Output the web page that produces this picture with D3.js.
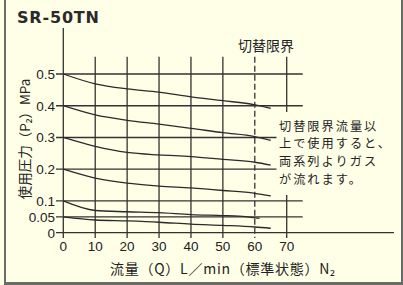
<!DOCTYPE html>
<html><head><meta charset="utf-8">
<script src="https://cdn.jsdelivr.net/npm/d3@7/dist/d3.min.js"></script>
<style>html,body{margin:0;padding:0;background:#ffffe8;}svg{display:block;}</style>
</head><body>
<script>
const chartTitle = "SR-50TN";
const qTicks = [0, 10, 20, 30, 40, 50, 60, 70];
const qTickLabels = ["0", "10", "20", "30", "40", "50", "60", "70"];
const pTicks = [0, 0.05, 0.1, 0.2, 0.3, 0.4, 0.5];
const pTickLabels = ["0", "0.05", "0.1", "0.2", "0.3", "0.4", "0.5"];
const switchLimitQ = 60;
const flowQ = [0, 10, 20, 30, 40, 50, 60, 65];
const flowQ010 = [0, 10, 20, 30, 40, 50, 55, 61.5];
const p050 = [0.5, 0.469, 0.453, 0.443, 0.428, 0.416, 0.403, 0.392];
const p040 = [0.4, 0.371, 0.354, 0.342, 0.329, 0.315, 0.303, 0.291];
const p030 = [0.3, 0.272, 0.253, 0.245, 0.240, 0.231, 0.222, 0.213];
const p020 = [0.2, 0.172, 0.156, 0.147, 0.141, 0.133, 0.124, 0.116];
const p010 = [0.1, 0.070, 0.066, 0.063, 0.057, 0.054, 0.052, 0.045];
const p005 = [0.05, 0.040, 0.037, 0.033, 0.027, 0.023, 0.018, 0.014];
const yLabel = "使用圧力（P₂）MPa";
const xLabel = "流量（Q）L／min（標準状態）N₂";
const limitLabel = "切替限界";
const noteLines = ["切替限界流量以", "上で使用すると、", "両系列よりガス", "が流れます。"];

const W = 403, H = 285, bg = "#ffffe8", ink = "#333";
const svg = d3.select("body").append("svg").attr("width", W).attr("height", H);
svg.append("rect").attr("width", W).attr("height", H).attr("fill", bg);

// frame (left, right, bottom)
const fc = "#6a6a6a";
svg.append("rect").attr("x", 4).attr("y", 0).attr("width", 2).attr("height", 285).attr("fill", fc);
svg.append("rect").attr("x", 401).attr("y", 0).attr("width", 2).attr("height", 285).attr("fill", fc);
svg.append("rect").attr("x", 4).attr("y", 282).attr("width", 399).attr("height", 3).attr("fill", fc);

const x = d3.scaleLinear().domain([0, 70]).range([63.3, 286.7]);
const y = d3.scaleLinear().domain([0, 0.5]).range([232.7, 74]);

const g = svg.append("g");
// vertical grid
g.selectAll(".vg").data(qTicks).join("line")
  .attr("x1", d => x(d)).attr("x2", d => x(d))
  .attr("y1", d => d === 0 ? 28 : 56.7).attr("y2", 238)
  .attr("stroke", ink).attr("stroke-width", 1.3)
  .attr("stroke-dasharray", d => d === switchLimitQ ? "6,3" : null);
// horizontal grid
g.selectAll(".hg").data(pTicks).join("line")
  .attr("x1", 56).attr("x2", d => d === 0 ? 394 : 302.7)
  .attr("y1", d => y(d)).attr("y2", d => y(d))
  .attr("stroke", ink).attr("stroke-width", 1.3);

// mask behind note
svg.append("rect").attr("x", 276.5).attr("y", 112).attr("width", 32).attr("height", 83).attr("fill", bg);

// curves
const line = d3.line().x(d => x(d[0])).y(d => y(d[1])).curve(d3.curveMonotoneX);
const series = [[flowQ, p050], [flowQ, p040], [flowQ, p030], [flowQ, p020], [flowQ010, p010], [flowQ, p005]];
svg.selectAll(".crv").data(series).join("path")
  .attr("d", s => line(s[0].map((q, i) => [q, s[1][i]])))
  .attr("fill", "none").attr("stroke", "#2a2a2a").attr("stroke-width", 1.3);

// tick labels
const tickFont = "'Liberation Sans', Arial, sans-serif";
svg.selectAll(".yl").data(pTicks).join("text")
  .attr("x", 55).attr("y", d => y(d)).attr("dy", "0.36em")
  .attr("text-anchor", "end").attr("font-family", tickFont).attr("font-size", 13.5)
  .attr("fill", "#222").text((d, i) => pTickLabels[i]);
svg.selectAll(".xl").data(qTicks).join("text")
  .attr("x", d => x(d)).attr("y", 250.5)
  .attr("text-anchor", "middle").attr("font-family", tickFont).attr("font-size", 13.5)
  .attr("fill", "#222").text((d, i) => qTickLabels[i]);

const jp = "'Noto Sans CJK JP', 'Noto Sans', sans-serif";
// title
svg.append("text").attr("x", 17).attr("y", 23).attr("font-family", "'DejaVu Sans', sans-serif")
  .attr("font-weight", "bold").attr("font-size", 16).attr("fill", "#2a2a2a")
  .attr("textLength", 82).attr("lengthAdjust", "spacing").text(chartTitle);
// y label
svg.append("text").attr("transform", "translate(24,139) rotate(-90)")
  .attr("text-anchor", "middle").attr("dominant-baseline", "central")
  .attr("font-family", jp).attr("font-size", 13.5).attr("fill", "#222").text(yLabel);
// x label
svg.append("text").attr("x", 110).attr("y", 274)
  .attr("font-family", jp).attr("font-size", 14).attr("fill", "#222")
  .attr("textLength", 225).attr("lengthAdjust", "spacing").text(xLabel);
// limit label
svg.append("text").attr("x", 266).attr("y", 51).attr("text-anchor", "middle")
  .attr("font-family", jp).attr("font-size", 14).attr("fill", "#222").text(limitLabel);
// note
svg.selectAll(".note").data(noteLines).join("text")
  .attr("x", 279).attr("y", (d, i) => 130.5 + i * 17.7)
  .attr("font-family", jp).attr("font-size", 12.2).attr("letter-spacing", 2)
  .attr("fill", "#222").text(d => d);
</script>
</body></html>
